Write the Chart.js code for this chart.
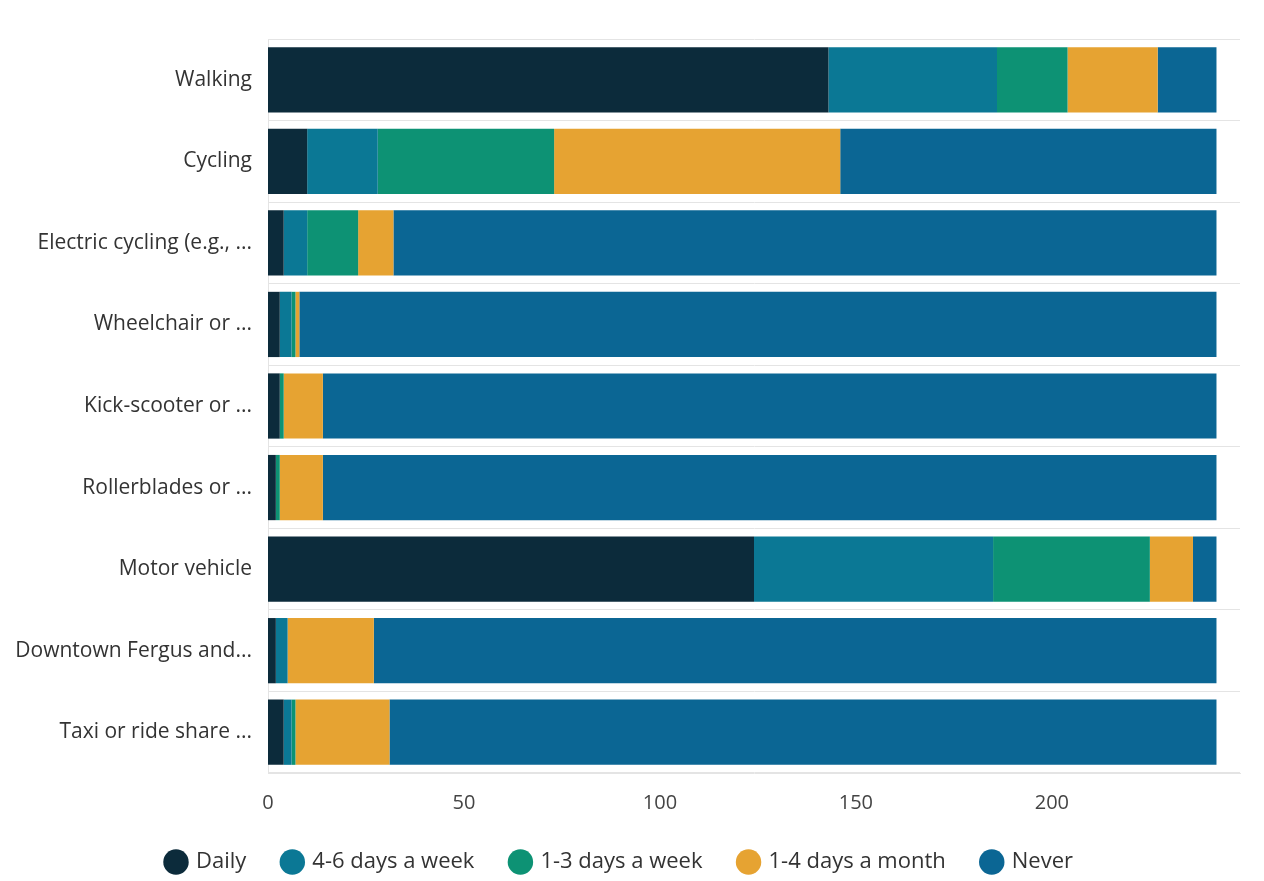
<!DOCTYPE html>
<html>
<head>
<meta charset="utf-8">
<script src="https://cdn.jsdelivr.net/npm/chart.js@4"></script>
<style>
  html, body { margin: 0; padding: 0; background: #fff; }
  #wrap { width: 1264px; height: 881px; }
</style>
</head>
<body>
<div id="wrap"><canvas id="chart" width="1264" height="881"></canvas></div>
<script>
  // Categories, top to bottom (labels truncated as in the source).
  const categories = [
    "Walking",
    "Cycling",
    "Electric cycling (e.g., ...",
    "Wheelchair or ...",
    "Kick-scooter or ...",
    "Rollerblades or ...",
    "Motor vehicle",
    "Downtown Fergus and...",
    "Taxi or ride share ..."
  ];

  // Response counts per frequency.
  const daily      = [143, 10,   4,   3,   3,   2, 124,   2,   4];
  const days4to6   = [ 43, 18,   6,   3,   0,   0,  61,   3,   2];
  const days1to3   = [ 18, 45,  13,   1,   1,   1,  40,   0,   1];
  const month1to4  = [ 23, 73,   9,   1,  10,  11,  11,  22,  24];
  const never      = [ 15, 96, 210, 234, 228, 228,   6, 215, 211];

  const xTicks = [0, 50, 100, 150, 200];

  const COLORS = {
    daily: "#0c2b3b",
    d46: "#0b7895",
    d13: "#0d9274",
    m14: "#e6a332",
    never: "#0b6694",
    grid: "#e4e4e4",
    text: "#333333"
  };

  // Legend geometry: items sit low, under the axis labels.
  const LEGEND_PAD = 37;
  const LEGEND_FONT = 22;
  const LEGEND_ROOM = 48;     // height the legend takes out of the layout
  const LEGEND_CENTER = 862;  // y of the legend row

  function ds(label, data, color) {
    return {
      label: label,
      data: data,
      backgroundColor: color,
      borderWidth: 0,
      barPercentage: 0.8,
      categoryPercentage: 1.0
    };
  }

  // Keep the wide item spacing without the legend eating vertical space.
  const legendPlacer = {
    id: "legendPlacer",
    beforeInit: function (chart) {
      const lg = chart.legend;
      if (!lg) return;
      const fit = lg.fit;
      lg.fit = function () {
        fit.call(this);
        if (this.isHorizontal()) this.height = LEGEND_ROOM;
      };
    },
    afterLayout: function (chart) {
      const lg = chart.legend;
      if (!lg) return;
      // legend clips to its own box, so let the box run to the canvas bottom
      lg.top = LEGEND_CENTER - LEGEND_PAD - LEGEND_FONT / 2;
      lg.bottom = chart.height;
      lg.height = lg.bottom - lg.top;
    }
  };

  Chart.defaults.font.family = "'Open Sans', 'Noto Sans', sans-serif";
  Chart.defaults.color = COLORS.text;

  new Chart(document.getElementById("chart").getContext("2d"), {
    type: "bar",
    data: {
      labels: categories,
      datasets: [
        ds("Daily", daily, COLORS.daily),
        ds("4-6 days a week", days4to6, COLORS.d46),
        ds("1-3 days a week", days1to3, COLORS.d13),
        ds("1-4 days a month", month1to4, COLORS.m14),
        ds("Never", never, COLORS.never)
      ]
    },
    plugins: [legendPlacer],
    options: {
      indexAxis: "y",
      responsive: false,
      animation: false,
      layout: { padding: { top: 39, right: 24, bottom: 0, left: 0 } },
      scales: {
        x: {
          stacked: true,
          min: 0,
          max: 248,
          afterBuildTicks: function (scale) {
            scale.ticks = xTicks.map(function (v) { return { value: v }; });
          },
          grid: { display: false, drawTicks: false },
          border: { display: true, color: COLORS.grid },
          ticks: { font: { size: 20 }, color: "#444", padding: 18 }
        },
        y: {
          stacked: true,
          afterFit: function (scale) { scale.width = 268; },
          grid: { display: true, color: COLORS.grid, offset: true, drawTicks: false },
          border: { display: true, color: COLORS.grid },
          ticks: { font: { size: 21 }, color: "#333", padding: 16 }
        }
      },
      plugins: {
        legend: {
          position: "bottom",
          labels: {
            usePointStyle: true,
            pointStyle: "circle",
            boxWidth: 18,
            boxHeight: 18,
            padding: LEGEND_PAD,
            font: { size: LEGEND_FONT },
            color: "#333"
          }
        },
        tooltip: { enabled: false }
      }
    }
  });
</script>
</body>
</html>
